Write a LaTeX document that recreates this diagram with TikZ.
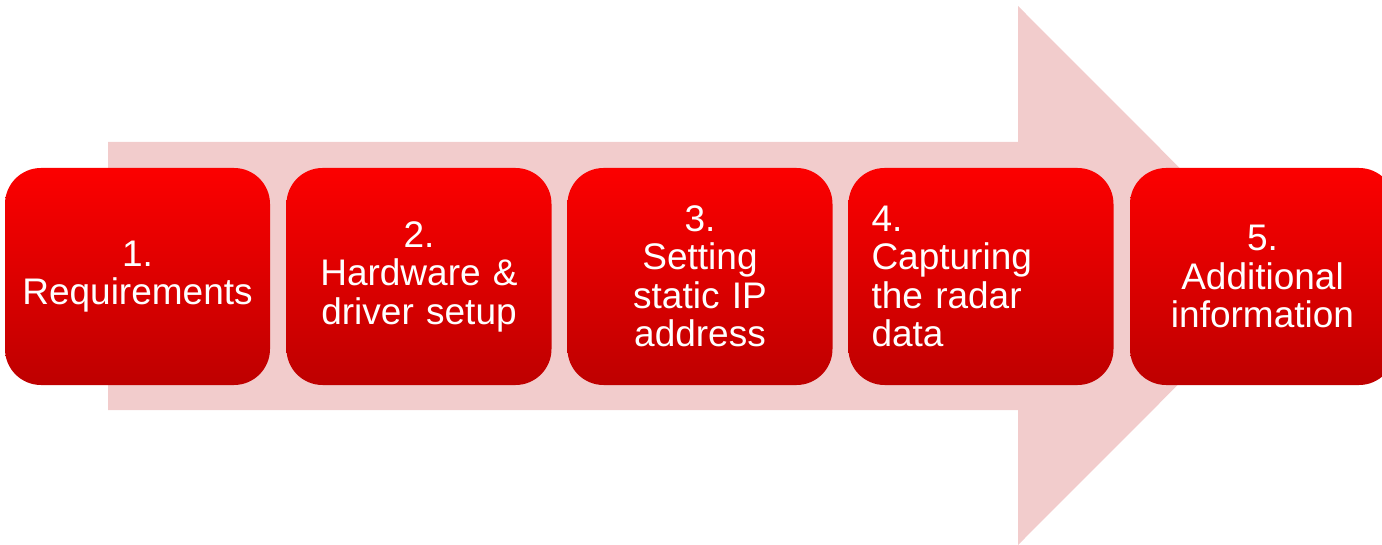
\documentclass[tikz,border=0pt]{standalone}
\usepackage{fontspec}
\setmainfont{Liberation Sans}
\definecolor{arrowpink}{RGB}{242,204,204}
\definecolor{redtop}{RGB}{252,0,0}
\definecolor{redbot}{RGB}{190,0,0}
\begin{document}
\begin{tikzpicture}[x=1pt,y=-1pt,
  stepbox/.style={rectangle, rounded corners=36pt, minimum width=265pt, minimum height=217pt,
    top color=redtop, bottom color=redbot, draw=none, text=white,
    font=\fontsize{37}{38.5}\selectfont, inner sep=0pt},
  ctr/.style={align=center, text width=250pt},
  lft/.style={align=left, text width=219pt}]
\useasboundingbox (0,0) rectangle (1382,545);
\clip (0,0) rectangle (1382,545);
\fill[arrowpink] (108,142) -- (1018,142) -- (1018,6) -- (1287,275.5) -- (1018,545) -- (1018,410) -- (108,410) -- cycle;
\node[stepbox, ctr] (s1) at (137.5,276.5) {1.\\Requirements};
\node[stepbox, ctr] (s2) at (419,276.5) {2.\\Hardware \&\\driver setup};
\node[stepbox, ctr] (s3) at (700,276.5) {3.\\Setting\\static IP\\address};
\node[stepbox, lft] (s4) at (981,276.5) {4.\\Capturing\\the radar\\data};
\node[stepbox, ctr] (s5) at (1262.5,276.5) {5.\\Additional\\information};
\end{tikzpicture}
\end{document}
